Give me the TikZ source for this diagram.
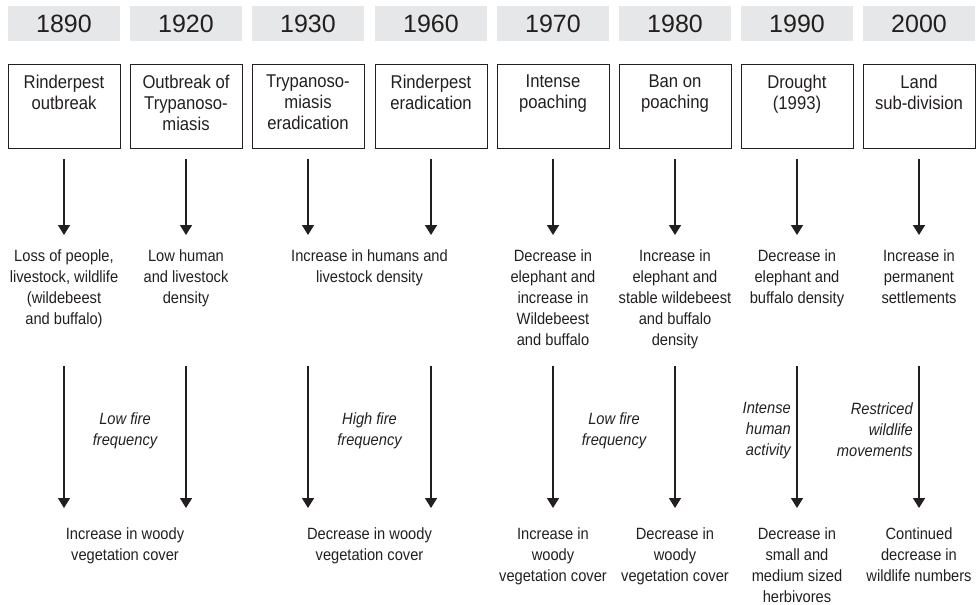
\documentclass[tikz,border=0pt]{standalone}
\usepackage{fontspec}
\setmainfont{Liberation Sans}[FakeStretch=0.9]
\newfontfamily\yearfont{Liberation Sans}
\usepackage{xcolor}
\usetikzlibrary{positioning,arrows.meta}
\definecolor{ink}{HTML}{231F20}
\definecolor{bar}{HTML}{E6E7E8}
\newcommand{\evtext}[1]{\parbox[t][63pt][t]{108pt}{\centering #1}}

\begin{document}
\begin{tikzpicture}[
    x=1pt, y=1pt,
    every node/.style={text=ink},
    year/.style={fill=bar, minimum width=112pt, minimum height=35pt, inner sep=0pt, font=\yearfont\fontsize{25}{30}\selectfont},
    event/.style={draw=ink, line width=0.8pt, anchor=north, inner xsep=2pt, inner ysep=10.5pt, font=\fontsize{18.5}{21}\selectfont},
    effect/.style={anchor=north, align=center, inner sep=0pt, font=\fontsize{16.3}{21}\selectfont},
    cause/.style={anchor=north, align=center, inner sep=0pt, font=\fontsize{16.3}{21}\selectfont\itshape},
    link/.style={draw=ink, line width=1.6pt, -{Triangle[length=10pt,width=12pt]}}
]
\useasboundingbox (0,0) rectangle (980,-605);

% years
\node[year] (yr1) at (64,-23.5) {1890};
\node[year] (yr2) at (186,-23.5) {1920};
\node[year] (yr3) at (308,-23.5) {1930};
\node[year] (yr4) at (431,-23.5) {1960};
\node[year] (yr5) at (553,-23.5) {1970};
\node[year] (yr6) at (675,-23.5) {1980};
\node[year] (yr7) at (797,-23.5) {1990};
\node[year] (yr8) at (919,-23.5) {2000};

% events
\node[event] (ev1) at (64,-64) {\evtext{Rinderpest\\outbreak}};
\node[event] (ev2) at (186,-64) {\evtext{Outbreak of\\Trypanoso-\\miasis}};
\node[event] (ev3) at (308,-64) {\evtext{Trypanoso-\\miasis\\eradication}};
\node[event] (ev4) at (431,-64) {\evtext{Rinderpest\\eradication}};
\node[event] (ev5) at (553,-64) {\evtext{Intense\\poaching}};
\node[event] (ev6) at (675,-64) {\evtext{Ban on\\poaching}};
\node[event] (ev7) at (797,-64) {\evtext{Drought\\(1993)}};
\node[event] (ev8) at (919,-64) {\evtext{Land\\sub-division}};

% first effects
\node[effect] (fx1) at (64,-249) {Loss of people,\\livestock, wildlife\\(wildebeest\\and buffalo)};
\node[effect] (fx2) at (186,-249) {Low human\\and livestock\\density};
\node[effect] (fx34) at (369.5,-249) {Increase in humans and\\livestock density};
\node[effect] (fx5) at (553,-249) {Decrease in\\elephant and\\increase in\\Wildebeest\\and buffalo};
\node[effect] (fx6) at (675,-249) {Increase in\\elephant and\\stable wildebeest\\and buffalo\\density};
\node[effect] (fx7) at (797,-249) {Decrease in\\elephant and\\buffalo density};
\node[effect] (fx8) at (919,-249) {Increase in\\permanent\\settlements};

\draw[link, shorten <=10pt, shorten >=14pt] (ev1) -- (fx1);
\draw[link, shorten <=10pt, shorten >=14pt] (ev2) -- (fx2);
\draw[link, shorten <=10pt, shorten >=14pt] (ev3) -- (ev3 |- fx34.north);
\draw[link, shorten <=10pt, shorten >=14pt] (ev4) -- (ev4 |- fx34.north);
\draw[link, shorten <=10pt, shorten >=14pt] (ev5) -- (fx5);
\draw[link, shorten <=10pt, shorten >=14pt] (ev6) -- (fx6);
\draw[link, shorten <=10pt, shorten >=14pt] (ev7) -- (fx7);
\draw[link, shorten <=10pt, shorten >=14pt] (ev8) -- (fx8);

% second effects
\node[effect] (lo12) at (125,-527) {Increase in woody\\vegetation cover};
\node[effect] (lo34) at (369.5,-527) {Decrease in woody\\vegetation cover};
\node[effect] (lo5) at (553,-527) {Increase in\\woody\\vegetation cover};
\node[effect] (lo6) at (675,-527) {Decrease in\\woody\\vegetation cover};
\node[effect] (lo7) at (797,-527) {Decrease in\\small and\\medium sized\\herbivores};
\node[effect] (lo8) at (919,-527) {Continued\\decrease in\\wildlife numbers};

\coordinate (st1) at (64,-366);
\coordinate (st2) at (186,-366);
\coordinate (st3) at (308,-366);
\coordinate (st4) at (431,-366);
\coordinate (st5) at (553,-366);
\coordinate (st6) at (675,-366);
\coordinate (st7) at (797,-366);
\coordinate (st8) at (919,-366);

\draw[link, shorten >=19pt] (st1) -- (st1 |- lo12.north);
\draw[link, shorten >=19pt] (st2) -- (st2 |- lo12.north);
\draw[link, shorten >=19pt] (st3) -- (st3 |- lo34.north);
\draw[link, shorten >=19pt] (st4) -- (st4 |- lo34.north);
\draw[link, shorten >=19pt] (st5) -- (lo5);
\draw[link, shorten >=19pt] (st6) -- (lo6);
\draw[link, shorten >=19pt] (st7) -- (lo7);
\draw[link, shorten >=19pt] (st8) -- (lo8);

% causes
\node[cause] (ca12) at (125,-412) {Low fire\\frequency};
\node[cause] (ca34) at (369.5,-412) {High fire\\frequency};
\node[cause] (ca56) at (614,-412) {Low fire\\frequency};
\node[cause, anchor=north east, align=right] (ca7) at (791,-402) {Intense\\human\\activity};
\node[cause, anchor=north east, align=right] (ca8) at (913,-402) {Restriced\\wildlife\\movements};

\end{tikzpicture}
\end{document}
